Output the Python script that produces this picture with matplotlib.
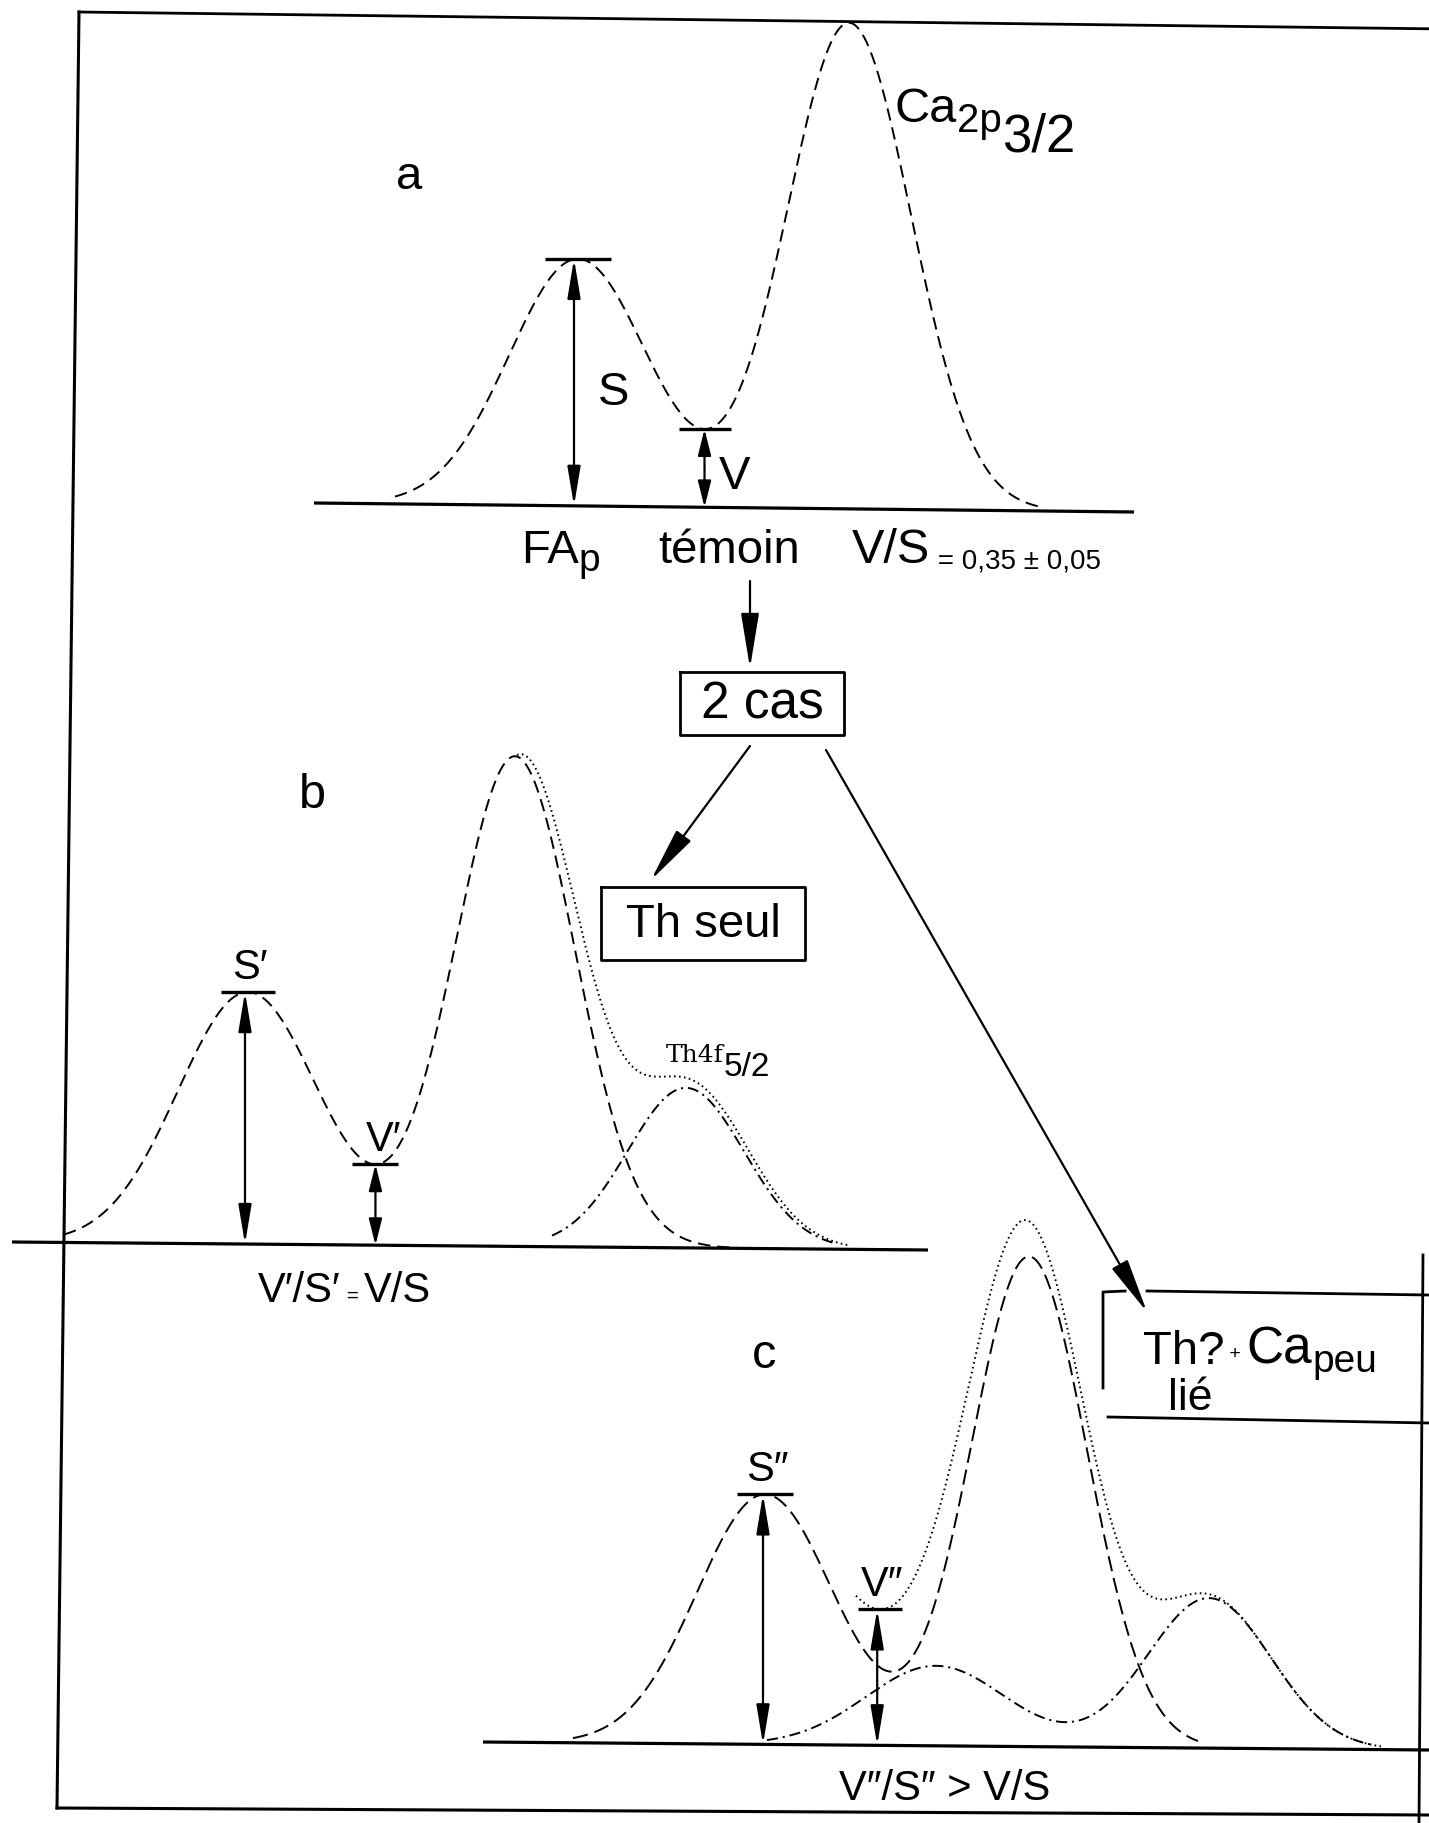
import numpy as np
import matplotlib
matplotlib.use('Agg')
import matplotlib.pyplot as plt
from matplotlib.patches import FancyArrowPatch

plt.rcParams['font.family'] = ['Liberation Sans', 'DejaVu Sans']
plt.rcParams['lines.scale_dashes'] = False

W, H = 1429, 1823

# ---------------- data (pixel units) ----------------
# baselines: x0, y0, x1, y1
base_a = [314, 503, 1134, 512]
base_b = [12, 1242, 928, 1250]
base_c = [483, 1742, 1429, 1750]

# panel a : FAp + Ca2p3/2 peaks (centre, height, width)
a_center = [578, 849]
a_height = [247, 486]
a_sigma = [69, 62]
a_range = [395, 1041]

# panel b : Ca peaks (dashed) + Th4f5/2 (dash-dot)
b_center = [248, 515]
b_height = [252, 490]
b_sigma = [70, 60]
b_range = [64, 738]
b_th_center = [686]
b_th_height = [160]
b_th_sigma = [58]
b_th_range = [552, 837]
b_sum_range = [512, 843]

# panel c : Ca peaks (dashed) + Th components (dash-dot)
c_center = [765, 1029]
c_height = [250, 490]
c_sigma = [68, 58]
c_range = [573, 1198]
c_th_center = [936, 1209]
c_th_height = [80, 150]
c_th_sigma = [70, 62]
c_th_range = [767, 1372]
c_sum_range = [856, 1381]

# ---------------- figure ----------------
fig = plt.figure(figsize=(W / 100, H / 100), dpi=100)
ax = fig.add_axes([0, 0, 1, 1])
ax.set_xlim(0, W)
ax.set_ylim(H, 0)
ax.axis('off')

K = 'black'
DASH = (0, (9, 5))
DASH_C = (0, (11, 5))
DOT = (0, (1.2, 2.4))
DASHDOT = (0, (8, 3.5, 1.5, 3.5))
LW = 1.4


def base_y(b, x):
    x0, y0, x1, y1 = b
    return y0 + (y1 - y0) * (np.asarray(x) - x0) / (x1 - x0)


def peaks(x, centers, heights, sigmas):
    x = np.asarray(x, dtype=float)
    s = np.zeros_like(x)
    for c, h, w in zip(centers, heights, sigmas):
        s += h * np.exp(-(x - c) ** 2 / (2 * w ** 2))
    return s


def draw_base(b):
    ax.plot([b[0], b[2]], [b[1], b[3]], color=K, lw=2.3, solid_capstyle='butt')


def darrow(x, ytop, ybot, hl=1.2):
    ax.add_patch(FancyArrowPatch((x, ytop), (x, ybot),
                                 arrowstyle='<|-|>,head_length=%g,head_width=0.2' % hl,
                                 mutation_scale=20, lw=1.6, color=K,
                                 shrinkA=0, shrinkB=0))


def farrow(p0, p1):
    ax.add_patch(FancyArrowPatch(p0, p1,
                                 arrowstyle='-|>,head_length=1.7,head_width=0.28',
                                 mutation_scale=20, lw=1.6, color=K,
                                 shrinkA=0, shrinkB=0))


def bar(x, y, half):
    ax.plot([x - half, x + half], [y, y], color=K, lw=2.4, solid_capstyle='butt')


def seq(x, y, pieces):
    r = fig.canvas.get_renderer()
    inv = ax.transData.inverted()
    for s, fs, dy, fam in pieces:
        t = ax.text(x, y + dy, s, fontsize=fs, family=fam, va='baseline', ha='left', color=K)
        bb = t.get_window_extent(renderer=r)
        xa = inv.transform((bb.x0, bb.y0))[0]
        xb = inv.transform((bb.x1, bb.y0))[0]
        x += (xb - xa)
    return x


SANS = ['Liberation Sans', 'DejaVu Sans']
SERIF = ['DejaVu Serif']

# ---------------- frame ----------------
ax.plot([79, 1445], [12, 29], color=K, lw=2.0)
ax.plot([79, 57], [12, 1808], color=K, lw=2.2)
ax.plot([57, 1429], [1808, 1815], color=K, lw=2.2)
ax.plot([1423, 1419], [1255, 1823], color=K, lw=2.0)

# ---------------- panel a ----------------
draw_base(base_a)
xa = np.linspace(a_range[0], a_range[1], 600)
ya = base_y(base_a, xa) - peaks(xa, a_center, a_height, a_sigma)
ax.plot(xa, ya, color=K, lw=LW, ls=DASH)

xs = a_center[0]
ys = base_y(base_a, xs) - peaks([xs], a_center, a_height, a_sigma)[0]
bar(xs, ys, 33)
darrow(xs - 4, ys, base_y(base_a, xs - 4))
mask = (xa > a_center[0]) & (xa < a_center[1])
iv = np.argmax(ya[mask])
xv, yv = xa[mask][iv], ya[mask][iv]
bar(xv, yv, 26)
darrow(xv, yv, base_y(base_a, xv), hl=0.8)

ax.text(409, 177, 'a', fontsize=34, ha='center', va='center', family=SANS)
ax.text(614, 393, 'S', fontsize=34, ha='center', va='center', family=SANS)
ax.text(735, 477, 'V', fontsize=34, ha='center', va='center', family=SANS)
seq(895, 122, [('Ca', 35, 0, SANS), ('2p', 29, 10, SANS), ('3/2', 38, 30, SANS)])
seq(521, 563, [('FA', 34, 0, SANS), ('p', 28, 8, SANS)])
ax.text(658, 563, 'témoin', fontsize=34, ha='left', va='baseline', family=SANS)
seq(852, 563, [('V/S', 35, 0, SANS), (' = 0,35 ± 0,05', 20, 5, SANS)])

# ---------------- flow chart ----------------
farrow((750, 581), (750, 668))
ax.plot([680, 844, 844, 680, 680], [672, 672, 735, 735, 672], color=K, lw=2.0)
ax.text(762, 705, '2 cas', fontsize=37, ha='center', va='center', family=SANS)
farrow((750, 746), (651, 880))
ax.plot([601, 805, 805, 601, 601], [887, 887, 960, 960, 887], color=K, lw=2.0)
ax.text(703, 925, 'Th seul', fontsize=34, ha='center', va='center', family=SANS)
farrow((826, 750), (1147, 1312))
# box "Th? + Ca peu lié"
ax.plot([1125, 1103, 1103], [1291, 1292, 1388], color=K, lw=2.0)
ax.plot([1147, 1429], [1291, 1295], color=K, lw=2.0)
ax.plot([1108, 1429], [1417, 1423], color=K, lw=2.0)
seq(1143, 1364, [('Th?', 34, 0, SANS), (' + ', 14, -5, SANS), ('Ca', 37, 0, SANS), ('peu', 28, 8, SANS)])
ax.text(1168, 1410, 'lié', fontsize=32, ha='left', va='baseline', family=SANS)

# ---------------- panel b ----------------
draw_base(base_b)
xb = np.linspace(b_range[0], b_range[1], 700)
yb = base_y(base_b, xb) - peaks(xb, b_center, b_height, b_sigma)
ax.plot(xb, yb, color=K, lw=LW, ls=DASH)
xt = np.linspace(b_th_range[0], b_th_range[1], 400)
yt = base_y(base_b, xt) - peaks(xt, b_th_center, b_th_height, b_th_sigma)
ax.plot(xt, yt, color=K, lw=LW, ls=DASHDOT)
xsum = np.linspace(b_sum_range[0], b_sum_range[1], 400)
ysum = base_y(base_b, xsum) - peaks(xsum, b_center, b_height, b_sigma) \
    - peaks(xsum, b_th_center, b_th_height, b_th_sigma)
ax.plot(xsum + 5, ysum, color=K, lw=1.4, ls=DOT)

xs = b_center[0]
ys = base_y(base_b, xs) - peaks([xs], b_center, b_height, b_sigma)[0]
bar(xs, ys, 27)
darrow(xs - 3, ys, base_y(base_b, xs - 3))
mask = (xb > b_center[0]) & (xb < b_center[1])
iv = np.argmax(yb[mask])
xv, yv = xb[mask][iv], yb[mask][iv]
bar(xv, yv, 23)
darrow(xv, yv, base_y(base_b, xv), hl=0.8)
ax.text(xs + 2, ys - 4, 'S′', fontsize=30, ha='center', va='bottom', family=SANS)
ax.text(xv + 8, yv - 4, 'V′', fontsize=30, ha='center', va='bottom', family=SANS)
ax.text(312, 796, 'b', fontsize=35, ha='center', va='center', family=SANS)
seq(666, 1062, [('Th4f', 18, 0, SERIF), ('5/2', 24, 14, SANS)])
seq(258, 1302, [('V′/S′', 30, 0, SANS), (' = ', 15, 0, SANS), ('V/S', 30, 0, SANS)])

# ---------------- panel c ----------------
draw_base(base_c)
xc = np.linspace(c_range[0], c_range[1], 700)
yc = base_y(base_c, xc) - peaks(xc, c_center, c_height, c_sigma)
ax.plot(xc, yc, color=K, lw=LW, ls=DASH_C)
xt = np.linspace(c_th_range[0], c_th_range[1], 500)
yt = base_y(base_c, xt) - peaks(xt, c_th_center, c_th_height, c_th_sigma)
ax.plot(xt, yt, color=K, lw=LW, ls=DASHDOT)
xsum = np.linspace(c_sum_range[0], c_sum_range[1], 500)
ysum = base_y(base_c, xsum) - peaks(xsum, c_center, c_height, c_sigma) \
    - peaks(xsum, c_th_center, c_th_height, c_th_sigma)
ax.plot(xsum, ysum, color=K, lw=1.4, ls=DOT)

xs = c_center[0]
ys = base_y(base_c, xs) - peaks([xs], c_center, c_height, c_sigma)[0]
bar(xs, ys, 28)
darrow(xs - 2, ys, base_y(base_c, xs - 2))
mask = (xsum > c_center[0]) & (xsum < c_center[1])
iv = np.argmax(ysum[mask])
xv, yv = xsum[mask][iv], ysum[mask][iv]
bar(xv, yv, 22)
darrow(xv - 3, yv, base_y(base_c, xv - 3))
ax.text(xs + 2, ys - 4, 'S″', fontsize=30, ha='center', va='bottom', family=SANS)
ax.text(xv + 2, yv - 4, 'V″', fontsize=30, ha='center', va='bottom', family=SANS)
ax.text(764, 1355, 'c', fontsize=35, ha='center', va='center', family=SANS)
ax.text(839, 1800, 'V″/S″ > V/S', fontsize=30, ha='left', va='baseline', family=SANS)

fig.savefig('out.png', dpi=100, facecolor='white')
